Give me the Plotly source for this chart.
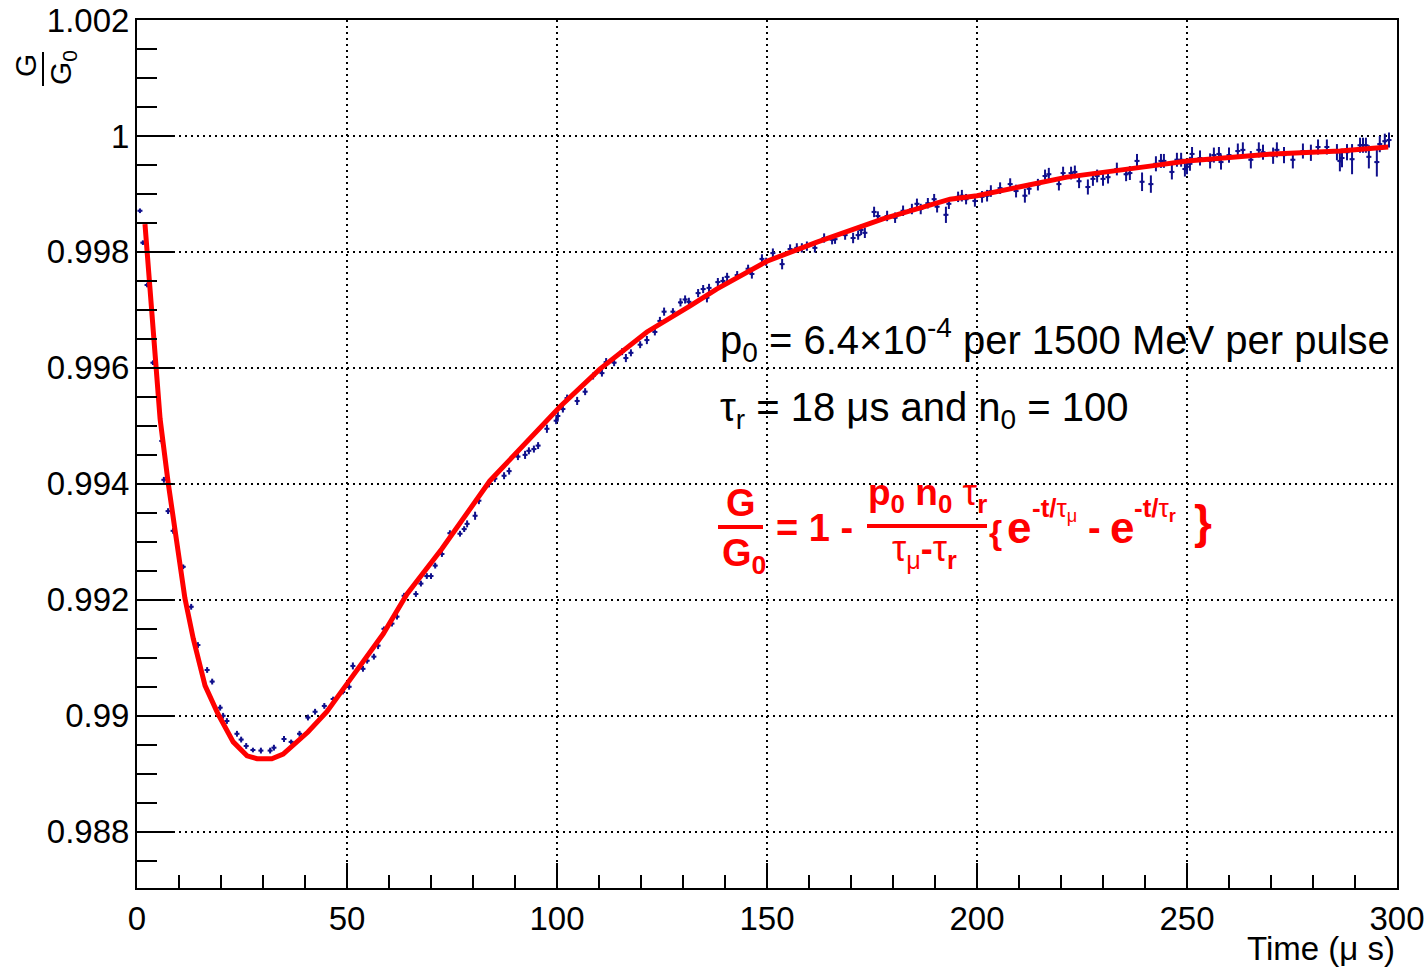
import plotly.graph_objects as go

# ---------------- data ----------------
t_data = [0.7, 1.4, 2.4, 3.8, 5.9, 6.4, 7.4, 8.6, 11.0, 12.9, 14.5, 16.7, 17.9, 19.8, 20.5, 21.4,
          23.8, 24.8, 26.0, 27.6, 29.5, 31.7, 32.6, 35.0, 36.7, 38.7, 40.7, 42.4, 44.6, 46.7, 49.0,
          50.5, 51.4, 53.8, 54.8, 56.4, 57.4, 58.8, 60.7, 61.9, 63.6, 66.4, 67.6, 69.0, 70.0, 71.0,
          72.6, 74.5, 76.9, 77.9, 78.6, 80.5, 81.4, 83.8, 85.2, 87.4, 88.6, 90.7, 92.4, 93.3, 94.5,
          95.5, 97.6, 99.8, 100.2, 101.4, 102.4, 104.8, 106.7, 108.6, 110.7, 111.7, 113.6, 115.5,
          116.4, 117.6, 119.8, 121.4, 123.3, 124.5, 125.5, 127.6, 129.4, 130.5, 131.4, 133.6, 134.8,
          135.7, 136.2, 138.3, 139.5, 140.5, 142.9, 145.5, 146.4, 148.8, 149.8, 151.4, 153.6, 155.5,
          157.1, 158.3, 159.5, 161.4, 163.6, 165.5, 166.2, 168.6, 170.5, 171.7, 172.4, 173.3, 175.5,
          176.4, 178.6, 180.5, 182.4, 184.5, 185.7, 186.6, 188.3, 189.8, 190.5, 192.6, 193.3, 195.5,
          196.4, 197.4, 199.5, 201.2, 202.4, 203.3, 205.5, 207.9, 209.3, 211.4, 212.4, 214.5, 216.2,
          217.1, 219.5, 220.5, 222.4, 223.3, 224.3, 226.4, 227.6, 228.6, 230.0, 231.2, 233.3, 235.5,
          236.4, 238.1, 239.3, 241.4, 242.6, 243.8, 244.5, 246.4, 247.6, 248.6, 249.5, 250.0, 250.7,
          251.2, 253.1, 255.5, 256.4, 257.6, 258.1, 260.0, 262.1, 263.3, 265.2, 267.1, 268.1, 270.5,
          271.4, 273.1, 275.2, 277.6, 279.5, 281.2, 283.3, 285.7, 286.4, 286.9, 288.1, 289.3, 291.2,
          291.9, 292.6, 293.3, 295.2, 295.9, 297.1, 298.1]

g_data = [0.99871, 0.99816, 0.99743, 0.99609, 0.99474, 0.99407, 0.99353, 0.99319, 0.99257, 0.99188,
          0.99122, 0.99079, 0.99059, 0.99014, 0.99000, 0.98991, 0.98969, 0.98959, 0.98948, 0.98941,
          0.98940, 0.98940, 0.98945, 0.98960, 0.98955, 0.98969, 0.98997, 0.99007, 0.99017, 0.99029,
          0.99041, 0.99050, 0.99086, 0.99081, 0.99095, 0.99102, 0.99121, 0.99150, 0.99159, 0.99171,
          0.99207, 0.99210, 0.99228, 0.99241, 0.99241, 0.99259, 0.99279, 0.99315, 0.99314, 0.99322,
          0.99331, 0.99345, 0.99371, 0.99400, 0.99409, 0.99414, 0.99422, 0.99447, 0.99450, 0.99457,
          0.99460, 0.99466, 0.99495, 0.99509, 0.99517, 0.99529, 0.99548, 0.99543, 0.99559, 0.99586,
          0.99591, 0.99610, 0.99609, 0.99628, 0.99617, 0.99626, 0.99640, 0.99648, 0.99662, 0.99681,
          0.99697, 0.99697, 0.99713, 0.99718, 0.99714, 0.99729, 0.99736, 0.99721, 0.99738, 0.99748,
          0.99750, 0.99757, 0.99760, 0.99771, 0.99762, 0.99788, 0.99783, 0.99798, 0.99779, 0.99805,
          0.99807, 0.99807, 0.99810, 0.99807, 0.99824, 0.99821, 0.99822, 0.99829, 0.99824, 0.99829,
          0.99838, 0.99833, 0.99869, 0.99862, 0.99862, 0.99859, 0.99871, 0.99874, 0.99883, 0.99874,
          0.99884, 0.99891, 0.99878, 0.99864, 0.99883, 0.99895, 0.99897, 0.99891, 0.99888, 0.99895,
          0.99897, 0.99905, 0.99910, 0.99917, 0.99905, 0.99897, 0.99909, 0.99916, 0.99931, 0.99934,
          0.99917, 0.99936, 0.99936, 0.99938, 0.99922, 0.99912, 0.99926, 0.99931, 0.99926, 0.99929,
          0.99943, 0.99934, 0.99936, 0.99957, 0.99921, 0.99917, 0.99952, 0.99957, 0.99957, 0.99938,
          0.99959, 0.99959, 0.99943, 0.99947, 0.99952, 0.99969, 0.99962, 0.99957, 0.99967, 0.99969,
          0.99955, 0.99967, 0.99974, 0.99976, 0.99959, 0.99976, 0.99972, 0.99966, 0.99976, 0.99967,
          0.99959, 0.99974, 0.99971, 0.99981, 0.99981, 0.99972, 0.99957, 0.99962, 0.99972, 0.99960,
          0.99984, 0.99984, 0.99984, 0.99964, 0.99955, 0.99986, 0.99991, 0.99993]

g_err = [0.00004, 0.00004, 0.00004, 0.00004, 0.00005, 0.00005, 0.00005, 0.00005, 0.00004, 0.00005,
         0.00005, 0.00005, 0.00005, 0.00005, 0.00005, 0.00005, 0.00005, 0.00005, 0.00005, 0.00004,
         0.00005, 0.00005, 0.00005, 0.00005, 0.00004, 0.00005, 0.00005, 0.00005, 0.00005, 0.00004,
         0.00004, 0.00005, 0.00006, 0.00005, 0.00005, 0.00005, 0.00006, 0.00004, 0.00005, 0.00005,
         0.00005, 0.00005, 0.00005, 0.00005, 0.00005, 0.00005, 0.00005, 0.00005, 0.00005, 0.00005,
         0.00006, 0.00007, 0.00006, 0.00006, 0.00006, 0.00006, 0.00006, 0.00006, 0.00007, 0.00006,
         0.00006, 0.00006, 0.00007, 0.00006, 0.00007, 0.00006, 0.00006, 0.00007, 0.00006, 0.00006,
         0.00006, 0.00007, 0.00006, 0.00006, 0.00007, 0.00006, 0.00006, 0.00007, 0.00006, 0.00007,
         0.00007, 0.00006, 0.00007, 0.00007, 0.00007, 0.00007, 0.00007, 0.00008, 0.00007, 0.00007,
         0.00007, 0.00007, 0.00007, 0.00007, 0.00008, 0.00008, 0.00007, 0.00008, 0.00009, 0.00008,
         0.00008, 0.00008, 0.00008, 0.00008, 0.00008, 0.00008, 0.00008, 0.00008, 0.00009, 0.00008,
         0.00009, 0.00009, 0.00009, 0.00008, 0.00009, 0.00009, 0.00009, 0.00009, 0.00009, 0.00009,
         0.00009, 0.00009, 0.00010, 0.00014, 0.00009, 0.00009, 0.00010, 0.00009, 0.00010, 0.00010,
         0.00010, 0.00010, 0.00010, 0.00010, 0.00011, 0.00012, 0.00010, 0.00010, 0.00011, 0.00011,
         0.00011, 0.00011, 0.00011, 0.00011, 0.00012, 0.00013, 0.00012, 0.00011, 0.00012, 0.00011,
         0.00011, 0.00012, 0.00012, 0.00012, 0.00016, 0.00015, 0.00013, 0.00012, 0.00012, 0.00013,
         0.00012, 0.00012, 0.00013, 0.00013, 0.00012, 0.00012, 0.00013, 0.00013, 0.00013, 0.00012,
         0.00013, 0.00013, 0.00013, 0.00013, 0.00015, 0.00013, 0.00013, 0.00014, 0.00013, 0.00014,
         0.00015, 0.00013, 0.00014, 0.00013, 0.00013, 0.00014, 0.00018, 0.00016, 0.00014, 0.00026,
         0.00013, 0.00013, 0.00013, 0.00020, 0.00025, 0.00014, 0.00013, 0.00013]

t_half_bin = [0.6] * len(t_data)

# fitted curve
t_fit = [1.9, 5.5, 7.4, 11.4, 13.4, 16.2, 19.3, 22.9, 26.2, 28.6, 32.1, 34.8, 40.7, 45.2, 50.0,
         58.6, 64.3, 72.6, 84.0, 93.6, 100.7, 110.2, 121.4, 131.7, 138.0, 150.0, 161.9, 177.6,
         193.6, 200.0, 221.4, 241.2, 250.0, 270.5, 286.4, 297.9]
g_fit = [0.99848, 0.99512, 0.99403, 0.99203, 0.99133, 0.99052, 0.99003, 0.98955, 0.98931, 0.98926,
         0.98926, 0.98934, 0.98972, 0.99007, 0.99055, 0.99141, 0.99210, 0.99288, 0.99405, 0.99478,
         0.99533, 0.99598, 0.99662, 0.99707, 0.99736, 0.99784, 0.99817, 0.99857, 0.99891, 0.99897,
         0.99929, 0.99948, 0.99957, 0.99969, 0.99974, 0.99981]

x_tickvals = [0, 50, 100, 150, 200, 250, 300]
x_ticktext = ["0", "50", "100", "150", "200", "250", "300"]
y_tickvals = [0.988, 0.990, 0.992, 0.994, 0.996, 0.998, 1.000, 1.002]
y_ticktext = ["0.988", "0.99", "0.992", "0.994", "0.996", "0.998", "1", "1.002"]

# ---------------- layout helpers (pixel -> paper) ----------------
W, H = 1427, 967
L, R, T, B = 137, 1397, 20, 888


def px(x):
    return (x - L) / (R - L)


def py(y):
    return 1 - (y - T) / (B - T)


FONT = "Liberation Sans, Arial, Helvetica, sans-serif"
NAVY = "#10108c"
RED = "#ff0000"

fig = go.Figure()

fig.add_trace(go.Scatter(
    x=t_data, y=g_data, mode="markers",
    marker=dict(color=NAVY, size=3, symbol="circle"),
    error_y=dict(type="data", array=g_err, visible=True, color=NAVY, thickness=2, width=0),
    error_x=dict(type="data", array=t_half_bin, visible=True, color=NAVY, thickness=2, width=0),
    showlegend=False, hoverinfo="skip"))

fig.add_trace(go.Scatter(
    x=t_fit, y=g_fit, mode="lines",
    line=dict(color=RED, width=5),
    showlegend=False, hoverinfo="skip"))

anns = []


def add_text(text, x, y, size, color="black", xanchor="left", yanchor="middle", angle=0):
    anns.append(dict(text=text, x=px(x), y=py(y), xref="paper", yref="paper",
                     xanchor=xanchor, yanchor=yanchor, showarrow=False, textangle=angle,
                     font=dict(family=FONT, size=size, color=color)))


# info text
add_text("p<sub>0</sub> = 6.4×10<sup>-4</sup> per 1500 MeV per pulse", 718, 340, 40)
add_text("τ<sub>r</sub> = 18 μs and n<sub>0</sub> = 100", 718, 410, 40)

# formula in red bold
add_text("<b>G</b>", 741, 503, 38, RED, xanchor="center")
add_text("<b>G<sub>0</sub></b>", 744, 556, 38, RED, xanchor="center")
add_text("<b>= 1 -</b>", 774, 528, 38, RED)
add_text("<b>p<sub>0</sub> n<sub>0</sub></b> τ<sub><b>r</b></sub>", 866, 495, 37, RED)
add_text("τ<sub>μ</sub><b>-</b>τ<sub><b>r</b></sub>", 890, 551, 36, RED)
add_text("<b>{</b>", 987, 532, 34, RED)
add_text("<b>e</b>", 1005, 527, 44, RED)
add_text("<b>-t/</b>τ<sub>μ</sub>", 1030, 509, 26, RED)
add_text("<b>-</b>", 1086, 528, 38, RED)
add_text("<b>e</b>", 1108, 527, 44, RED)
add_text("<b>-t/</b>τ<sub><b>r</b></sub>", 1132, 509, 26, RED)
add_text("<b>}</b>", 1192, 522, 46, RED)

# y-axis title (rotated fraction)
add_text("G", 26, 65, 30, angle=-90, xanchor="center")
add_text("G<sub>0</sub>", 63, 68, 30, angle=-90, xanchor="center")

# x-axis title
add_text("Time (μ s)", 1397, 948, 33, xanchor="right")

shapes = [
    dict(type="line", xref="paper", yref="paper", x0=px(718), x1=px(763), y0=py(527), y1=py(527),
         line=dict(color=RED, width=4)),
    dict(type="line", xref="paper", yref="paper", x0=px(867), x1=px(987), y0=py(526), y1=py(526),
         line=dict(color=RED, width=4)),
    dict(type="line", xref="paper", yref="paper", x0=px(43), x1=px(43), y0=py(52), y1=py(86),
         line=dict(color="black", width=2)),
]

axis_common = dict(showline=True, linecolor="black", linewidth=2, mirror=True,
                   ticks="inside", tickcolor="black", tickwidth=2, automargin=False,
                   showgrid=True, gridcolor="black", gridwidth=2, griddash="2px,4px",
                   zeroline=False, tickfont=dict(family=FONT, size=33, color="black"))

fig.update_layout(
    width=W, height=H, autosize=False,
    margin=dict(l=L, r=W - R, t=T, b=H - B, autoexpand=False),
    paper_bgcolor="white", plot_bgcolor="white",
    annotations=anns, shapes=shapes,
    xaxis=dict(range=[0, 300], tickmode="array", tickvals=x_tickvals, ticktext=x_ticktext,
               ticklen=25,
               minor=dict(ticks="inside", ticklen=13, tickwidth=2, tickcolor="black",
                          tickmode="linear", tick0=0, dtick=10, showgrid=False),
               **axis_common),
    yaxis=dict(range=[0.98703, 1.002], tickmode="array", tickvals=y_tickvals, ticktext=y_ticktext,
               ticklen=38, ticklabelstandoff=-1,
               minor=dict(ticks="inside", ticklen=20, tickwidth=2, tickcolor="black",
                          tickmode="linear", tick0=0, dtick=0.0005, showgrid=False),
               **axis_common),
)

fig.write_html("out.html")
